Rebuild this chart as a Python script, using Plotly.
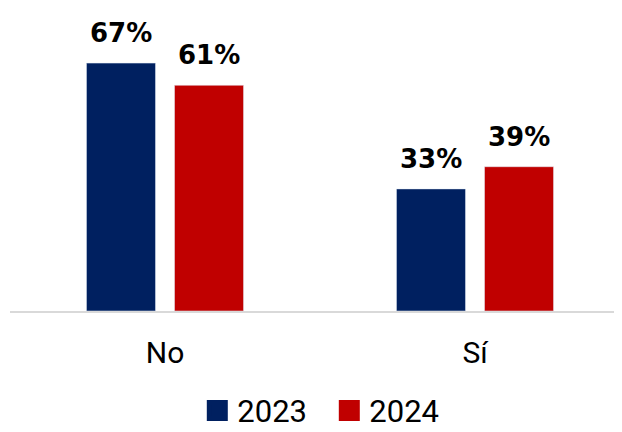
import plotly.graph_objects as go

categories = ["No", "Sí"]
years = ["2023", "2024"]
values_2023 = [67, 33]
values_2024 = [61, 39]
colors = ["#002060", "#C00000"]

fig = go.Figure()
series = [values_2023, values_2024]
for name, vals, col in zip(years, series, colors):
    fig.add_trace(go.Bar(x=categories, y=vals, name=name, marker_color=col,
                         showlegend=False))
    fig.add_trace(go.Scatter(x=[None], y=[None], mode="markers", name=name,
                             marker=dict(symbol="square", size=20, color=col,
                                         line=dict(color=col, width=5))))

# value labels
shifts = [-44, 44]
for vals, xs in zip(series, shifts):
    for c, v in zip(categories, vals):
        fig.add_annotation(x=c, y=v, text=f"{v}%", showarrow=False,
                           xshift=xs, yshift=13, yanchor="bottom",
                           font=dict(family="DejaVu Sans", size=26, color="black",
                                     weight="bold"))

fig.update_layout(
    width=622, height=432,
    margin=dict(l=2, r=0, t=22, b=129, autoexpand=False),
    plot_bgcolor="white", paper_bgcolor="white",
    barmode="group", bargap=0.432, bargroupgap=0.216,
    legend=dict(orientation="h", x=0.515, xanchor="center", y=-0.355, yanchor="middle",
                font=dict(family="Roboto", size=31, color="black"),
                itemsizing="trace", entrywidth=87),
    xaxis=dict(range=[-0.5, 1.5], showline=True, linecolor="#d9d9d9", linewidth=2,
               tickfont=dict(family="Roboto", size=30, color="black"),
               ticks="", showgrid=False, ticklabelstandoff=14),
    yaxis=dict(range=[0, 75.95], visible=False, showgrid=False),
)

fig.write_html("out.html")
